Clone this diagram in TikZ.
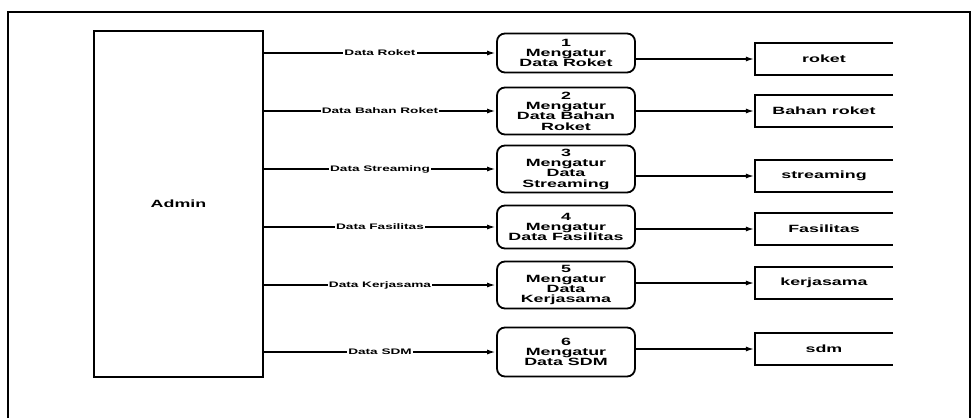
\documentclass[tikz,border=0pt]{standalone}
\usepackage{fontspec}
\newfontfamily\dfdfont[FakeStretch=1.7]{Liberation Sans}
\usetikzlibrary{arrows.meta}
\begin{document}
\begin{tikzpicture}[x=1pt,y=-1pt,
 box/.style={draw,line width=1.8pt,rounded corners=8pt,minimum width=138pt,align=center,inner sep=0pt,font=\dfdfont\bfseries\fontsize{10.5}{10.3}\selectfont},
 st/.style={minimum width=138pt,minimum height=31pt,inner sep=0pt,font=\dfdfont\bfseries\fontsize{10.5}{12}\selectfont},
 lb/.style={fill=white,inner sep=1pt,font=\dfdfont\bfseries\fontsize{8}{9}\selectfont},
 a/.style={-{Latex[length=9pt,width=5pt]},line width=2pt}]
\useasboundingbox (0,0) rectangle (973,418);
\draw[line width=1.8pt] (8,418)--(8,12)--(970,12)--(970,418);
\node[draw,line width=1.8pt,minimum width=169pt,minimum height=346pt,font=\dfdfont\bfseries\fontsize{10.5}{12}\selectfont] (adm) at (178.5,204) {Admin};
\node[box,minimum height=39pt] (p1) at (566,53) {1\\Mengatur\\Data Roket};
\node[box,minimum height=47pt] (p2) at (566,111) {2\\Mengatur\\Data Bahan\\Roket};
\node[box,minimum height=47pt] (p3) at (566,169) {3\\Mengatur\\Data\\Streaming};
\node[box,minimum height=43pt] (p4) at (566,227) {4\\Mengatur\\Data Fasilitas};
\node[box,minimum height=47pt] (p5) at (566,285) {5\\Mengatur\\Data\\Kerjasama};
\node[box,minimum height=49pt] (p6) at (566,352) {6\\Mengatur\\Data SDM};
\node[st] (s1) at (824,59) {roket};
\node[st] (s2) at (824,111) {Bahan roket};
\node[st] (s3) at (824,176) {streaming};
\node[st] (s4) at (824,229) {Fasilitas};
\node[st] (s5) at (824,283) {kerjasama};
\node[st] (s6) at (824,349) {sdm};
\draw[line width=1.8pt] (s1.north east)--(s1.north west)--(s1.south west)--(s1.south east);
\draw[line width=1.8pt] (s2.north east)--(s2.north west)--(s2.south west)--(s2.south east);
\draw[line width=1.8pt] (s3.north east)--(s3.north west)--(s3.south west)--(s3.south east);
\draw[line width=1.8pt] (s4.north east)--(s4.north west)--(s4.south west)--(s4.south east);
\draw[line width=1.8pt] (s5.north east)--(s5.north west)--(s5.south west)--(s5.south east);
\draw[line width=1.8pt] (s6.north east)--(s6.north west)--(s6.south west)--(s6.south east);
\draw[a] (adm.east |- p1)--node[lb]{Data Roket}(p1.west); \draw[a] (p1.east |- s1)--(s1.west);
\draw[a] (adm.east |- p2)--node[lb]{Data Bahan Roket}(p2.west); \draw[a] (p2.east |- s2)--(s2.west);
\draw[a] (adm.east |- p3)--node[lb]{Data Streaming}(p3.west); \draw[a] (p3.east |- s3)--(s3.west);
\draw[a] (adm.east |- p4)--node[lb]{Data Fasilitas}(p4.west); \draw[a] (p4.east |- s4)--(s4.west);
\draw[a] (adm.east |- p5)--node[lb]{Data Kerjasama}(p5.west); \draw[a] (p5.east |- s5)--(s5.west);
\draw[a] (adm.east |- p6)--node[lb]{Data SDM}(p6.west); \draw[a] (p6.east |- s6)--(s6.west);
\end{tikzpicture}
\end{document}
